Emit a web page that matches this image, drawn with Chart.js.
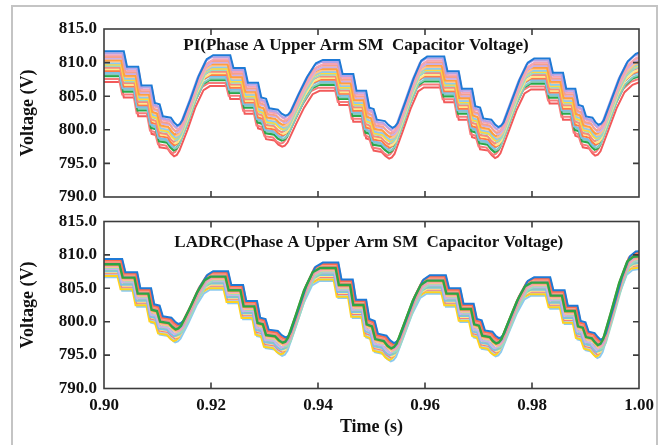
<!DOCTYPE html>
<html>
<head>
<meta charset="utf-8">
<script src="https://cdn.jsdelivr.net/npm/chart.js@4.4.0/dist/chart.umd.min.js"></script>
<style>
html,body{margin:0;padding:0;background:#fff;}
#wrap{position:relative;width:664px;height:445px;overflow:hidden;background:#fff;}
#wrap canvas{position:absolute;left:0;top:0;}
#edge{position:absolute;left:11px;top:5px;width:647px;height:470px;border:2px solid #c4c4c4;box-sizing:border-box;}
</style>
</head>
<body>
<div id="wrap">
  <div id="edge"></div>
  <canvas id="piChart" width="664" height="445"></canvas>
  <canvas id="ladrcChart" width="664" height="445"></canvas>
</div>
<script>
// mid-band waveform (s, V)
const piTime=[0.8990,0.9000,0.9033,0.9039,0.9060,0.9066,0.9085,0.9091,0.9100,0.9106,0.9121,0.9127,0.9133,0.9138,
  0.9143,0.9158,0.9173,0.9188,0.9200,
  0.9232,0.9238,0.9259,0.9265,0.9284,0.9290,0.9299,0.9305,0.9321,0.9328,0.9335,0.9340,
  0.9345,0.9360,0.9376,0.9392,0.9405,
  0.9436,0.9442,0.9462,0.9468,0.9486,0.9492,0.9500,0.9506,0.9521,0.9528,0.9535,0.9540,
  0.9545,0.9560,0.9575,0.9589,0.9600,
  0.9632,0.9638,0.9659,0.9665,0.9684,0.9690,0.9699,0.9705,0.9720,0.9727,0.9733,0.9738,
  0.9743,0.9758,0.9773,0.9788,0.9800,
  0.9829,0.9835,0.9854,0.9860,0.9877,0.9883,0.9891,0.9897,0.9909,0.9915,0.9920,0.9925,
  0.9930,0.9945,0.9960,0.9975,0.9990,1.0000,1.0010];
const piVolt=[809.4,809.4,809.4,807.1,807.1,804.3,804.3,801.7,801.5,799.7,799.5,798.8,798.35,798.55,
  799.2,802.3,805.7,808.2,808.8,
  808.8,806.9,806.9,804.7,804.7,802.5,802.3,800.9,800.7,800.1,799.8,799.95,
  800.4,803.0,805.6,807.6,808.1,
  808.1,806.0,806.0,803.5,803.5,801.0,800.8,799.2,799.0,798.4,798.0,798.2,
  798.7,802.0,805.4,808.0,808.6,
  808.6,806.4,806.4,803.8,803.8,801.2,801.0,799.4,799.2,798.5,798.1,798.3,
  798.8,802.0,805.2,807.7,808.3,
  808.3,806.2,806.2,803.8,803.8,801.4,801.2,799.7,799.5,798.8,798.45,798.6,
  799.1,802.3,805.5,807.9,809.0,809.3,809.5];

const ladrcTime=[0.8990,0.9000,0.9030,0.9036,0.9058,0.9064,0.9084,0.9090,0.9100,0.9106,0.9122,0.9129,0.9135,0.9140,
  0.9145,0.9160,0.9175,0.9189,0.9200,
  0.9228,0.9234,0.9256,0.9262,0.9282,0.9288,0.9298,0.9304,0.9321,0.9328,0.9335,0.9340,
  0.9345,0.9360,0.9375,0.9391,0.9405,
  0.9434,0.9440,0.9461,0.9467,0.9486,0.9492,0.9502,0.9508,0.9524,0.9531,0.9538,0.9543,
  0.9548,0.9563,0.9578,0.9593,0.9605,
  0.9635,0.9641,0.9662,0.9668,0.9687,0.9693,0.9702,0.9708,0.9722,0.9728,0.9734,0.9739,
  0.9744,0.9758,0.9773,0.9788,0.9800,
  0.9830,0.9836,0.9857,0.9863,0.9881,0.9887,0.9896,0.9902,0.9913,0.9919,0.9924,0.9929,
  0.9934,0.9949,0.9964,0.9979,0.9990,1.0000,1.0010];
const ladrcVolt=[808.1,808.1,808.1,806.1,806.1,803.7,803.7,801.3,801.1,799.5,799.3,798.7,798.35,798.5,
  798.9,801.3,803.9,805.7,806.25,
  806.25,804.2,804.2,801.8,801.8,799.3,799.1,797.5,797.3,796.7,796.35,796.5,
  797.1,800.6,804.2,806.9,807.55,
  807.55,805.0,805.0,802.0,802.0,799.1,798.8,796.9,796.6,795.9,795.5,795.7,
  796.2,799.4,802.6,805.0,805.65,
  805.65,803.7,803.7,801.4,801.4,799.1,798.9,797.4,797.2,796.6,796.25,796.4,
  796.9,799.7,802.6,804.8,805.35,
  805.35,803.4,803.4,801.1,801.1,798.8,798.6,797.2,797.0,796.4,796.0,796.2,
  796.9,801.0,805.3,808.5,809.2,809.3,809.4];

// each SM: offset from the mid band (V) and step delay (s)
const piOffset=[2.3,2.0,1.7,1.45,1.2,0.95,0.75,0.5,0.3,0.1,-0.15,-0.4,-0.65,-0.9,-1.15,-1.4,-1.85,-2.3];
const piShift=[0.0004,0.00015,0.0005,0.0001,0.0003,-0.0001,0.0002,0.00005,-0.00015,0.0001,-0.0003,0,-0.0002,-0.00045,-0.0001,-0.0003,-0.0005,-0.0002];
const piColors=['#1e7ad6','#b7a2e6','#f5a3b5','#f7a08a','#c9b0ea','#ff9f40','#ffc38a','#8ccaf0','#ffd93d',
  '#9dd9c2','#f38b80','#ffe98a','#ff7a45','#7fbde6','#86cbbf','#2aa84a','#f77b7b','#f25a5a'];

const ladrcOffset=[0.5,1.3,1.1,0.95,0.8,0.6,0.4,0.25,0.1,-0.05,-0.2,-0.4,-0.55,-0.7,-0.85,-1.25,-1.45,-1.1];
const ladrcShift=[-0.0001,0.0004,0.0002,0.00045,0.0001,0.0003,-0.00015,0.00025,0,0.0004,-0.0003,0.0001,-0.0004,-0.0001,-0.00025,-0.0005,-0.0002,-0.00035];
const ladrcColors=['#2ca446','#1e7ad6','#ff6a4d','#f7a08a','#f38b80','#b7a2e6','#ff9f40','#f5a3b5','#ffc38a',
  '#9dd9c2','#c9b0ea','#86cbbf','#7fbde6','#ffe98a','#f77b7b','#ffd21f','#8ccaf0','#a9d6f5'];

const FONT='"Liberation Serif", "Times New Roman", serif';

function buildSets(time,volt,offs,shifts,colors){
  return offs.map((o,i)=>({
    data: time.map((t,k)=>({x:t+shifts[i], y:volt[k]+o})),
    borderColor: colors[i],
    borderWidth: colors[i]==='#2ca446'||colors[i]==='#2aa84a'?2.4:2,
    pointRadius:0, tension:0, fill:false
  }));
}

const framePlugin={
  id:'frame',
  afterDatasetsDraw(chart,args,opts){
    const {ctx,chartArea:a,scales:{x,y}}=chart;
    ctx.save();
    ctx.strokeStyle='#3c3c3c'; ctx.lineWidth=1.6;
    ctx.beginPath();
    x.ticks.forEach(t=>{
      const px=x.getPixelForValue(t.value);
      if(px<a.left+2||px>a.right-2) return;
      ctx.moveTo(px,a.top); ctx.lineTo(px,a.top+6);
      ctx.moveTo(px,a.bottom); ctx.lineTo(px,a.bottom-6);
    });
    y.ticks.forEach(t=>{
      const py=y.getPixelForValue(t.value);
      if(py<a.top+2||py>a.bottom-2) return;
      ctx.moveTo(a.left,py); ctx.lineTo(a.left+6,py);
      ctx.moveTo(a.right,py); ctx.lineTo(a.right-6,py);
    });
    ctx.stroke();
    ctx.strokeRect(a.left,a.top,a.right-a.left,a.bottom-a.top);
    ctx.font='bold 17px '+FONT;
    ctx.fillStyle='#111'; ctx.textAlign='center'; ctx.textBaseline='middle';
    ctx.fillText(opts.text,a.left+(a.right-a.left)*opts.pos,a.top+opts.dy);
    ctx.restore();
  }
};

function makeChart(id,sets,cfg){
  return new Chart(document.getElementById(id),{
    type:'line',
    data:{datasets:sets},
    plugins:[framePlugin],
    options:{
      responsive:false, animation:false, events:[],
      layout:{padding:cfg.padding},
      plugins:{legend:{display:false}, tooltip:{enabled:false}, frame:cfg.frame},
      scales:{
        x:{type:'linear', min:0.9, max:1.0,
          ticks:{display:cfg.showX, stepSize:0.02, padding:7, color:'#111', maxRotation:0,
            font:{family:FONT, size:17, weight:'bold'}, callback:v=>v.toFixed(2)},
          grid:{display:false, drawTicks:false}, border:{display:false},
          title:{display:cfg.showX, text:'Time (s)', color:'#111', padding:{top:0,bottom:7},
            font:{family:FONT, size:18, weight:'bold'}},
          afterFit:s=>{ s.height=cfg.xHeight; }
        },
        y:{min:790, max:815,
          ticks:{stepSize:5, padding:7, color:'#111', font:{family:FONT, size:17, weight:'bold'},
            callback:v=>v.toFixed(1)},
          grid:{display:false, drawTicks:false}, border:{display:false},
          title:{display:true, text:'Voltage (V)', color:'#111', padding:{top:18,bottom:0},
            font:{family:FONT, size:18, weight:'bold'}},
          afterFit:s=>{ s.width=104; }
        }
      }
    }
  });
}

makeChart('piChart',buildSets(piTime,piVolt,piOffset,piShift,piColors),{
  padding:{left:0,top:29,right:25,bottom:248}, showX:false, xHeight:0,
  frame:{text:'PI(Phase A Upper Arm SM  Capacitor Voltage)', pos:0.471, dy:16.7}
});
makeChart('ladrcChart',buildSets(ladrcTime,ladrcVolt,ladrcOffset,ladrcShift,ladrcColors),{
  padding:{left:0,top:221.5,right:25,bottom:0}, showX:true, xHeight:56.5,
  frame:{text:'LADRC(Phase A Upper Arm SM  Capacitor Voltage)', pos:0.495, dy:20.8}
});
</script>
</body>
</html>
